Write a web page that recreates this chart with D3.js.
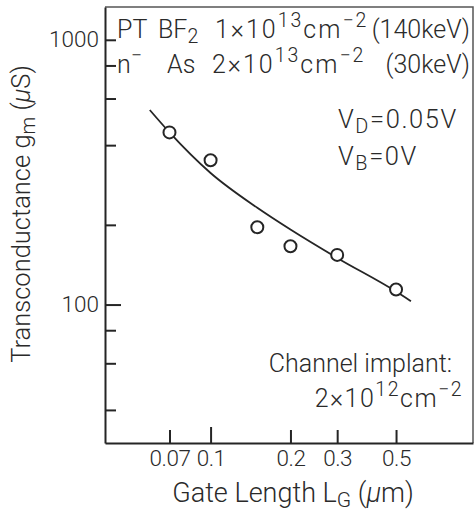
<!DOCTYPE html>
<html lang="en">
<head>
<meta charset="utf-8">
<title>Transconductance vs gate length</title>
<script src="https://cdn.jsdelivr.net/npm/d3@7"></script>
<style>
  body { margin: 0; background: #fff; }
  svg text { font-family: Roboto, "DejaVu Sans", sans-serif; font-weight: 300; fill: #2a2a2a; }
</style>
</head>
<body>
<div id="chart"></div>
<script>
// measured points (gate length in um, gm in uS)
var gateLength = [0.07, 0.1, 0.15, 0.2, 0.3, 0.5];
var gm = [447, 351, 196, 166, 154, 114];

// fitted curve
var fitLength = [0.059, 0.07, 0.1, 0.15, 0.2, 0.3, 0.5, 0.569];
var fitGm = [543, 447, 314, 232, 192, 150, 112, 103];

var xTicks = [0.07, 0.1, 0.2, 0.3, 0.5];
var xTickLabels = ["0.07", "0.1", "0.2", "0.3", "0.5"];
var yLabelled = [100, 1000];
var yMinor = [40, 60, 80, 200, 400, 600, 800];

var W = 475, H = 514;
var m = {top: 7, right: 2, bottom: 71, left: 105};

var svg = d3.select("#chart").append("svg")
  .attr("width", W)
  .attr("height", H);

var x = d3.scaleLog().domain([0.04, 0.975]).range([m.left, W - m.right]);
var y = d3.scaleLog().domain([30, 1330]).range([H - m.bottom, m.top]);

var ink = "#252525";

// frame top + right
svg.append("path")
  .attr("d", "M" + m.left + "," + m.top + "H" + (W - m.right) + "V" + (H - m.bottom))
  .style("fill", "none")
  .style("stroke", "#555")
  .style("stroke-width", 1.5);

// x axis
var gx = svg.append("g")
  .attr("transform", "translate(0," + (H - m.bottom) + ")")
  .call(d3.axisBottom(x)
    .tickValues(xTicks)
    .tickFormat(function(d, i) { return xTickLabels[i]; })
    .tickSizeInner(-13)
    .tickSizeOuter(0)
    .tickPadding(7));
gx.selectAll(".tick line").filter(function(d) { return d === 0.1; }).attr("y2", -16);

// y axis, labelled
var gy = svg.append("g")
  .attr("transform", "translate(" + m.left + ",0)")
  .call(d3.axisLeft(y)
    .tickValues(yLabelled)
    .tickFormat(d3.format("d"))
    .tickSizeInner(-16)
    .tickSizeOuter(0)
    .tickPadding(6));
gy.selectAll(".tick line").filter(function(d) { return d === 1000; }).attr("x2", 11);

// y axis, minor ticks
var gy2 = svg.append("g")
  .attr("transform", "translate(" + m.left + ",0)")
  .call(d3.axisLeft(y)
    .tickValues(yMinor)
    .tickFormat("")
    .tickSizeInner(-11)
    .tickSizeOuter(0));
gy2.select(".domain").remove();

svg.selectAll(".domain").style("stroke", ink).style("stroke-width", 2);
svg.selectAll(".tick line").style("stroke", ink).style("stroke-width", 2);
gx.attr("font-family", null);
gy.attr("font-family", null);
svg.selectAll(".tick text")
  .style("font-size", "22.5px")
  .style("fill", "#2a2a2a");
gx.selectAll(".tick text").style("letter-spacing", "-0.5px");

// fitted line
var line = d3.line()
  .x(function(d, i) { return x(fitLength[i]); })
  .y(function(d, i) { return y(fitGm[i]); })
  .curve(d3.curveMonotoneX);

svg.append("path")
  .datum(fitLength)
  .attr("d", line)
  .style("fill", "none")
  .style("stroke", ink)
  .style("stroke-width", 1.8);

// data points
svg.selectAll(".pt")
  .data(gateLength)
  .enter().append("circle")
  .attr("class", "pt")
  .attr("cx", function(d) { return x(d); })
  .attr("cy", function(d, i) { return y(gm[i]); })
  .attr("r", 6)
  .style("fill", "#fff")
  .style("stroke", ink)
  .style("stroke-width", 2);

// rich text helper: parts are [text, "sup"|"sub"|"", italic]
function rich(sel, parts) {
  var shift = 0;
  parts.forEach(function(p) {
    var t = sel.append("tspan").text(p[0]);
    var target = p[1] === "sup" ? -11 : (p[1] === "sub" ? 5 : 0);
    if (target !== shift) { t.attr("dy", target - shift); shift = target; }
    if (p[1]) t.attr("font-size", "0.78em");
    if (p[2]) t.style("font-style", "italic");
  });
  return sel;
}

function label(px, py, anchor, size, parts) {
  var t = svg.append("text")
    .attr("x", px)
    .attr("y", py)
    .attr("text-anchor", anchor)
    .style("font-size", size + "px");
  return rich(t, parts);
}

// axis titles
label(293, 502, "middle", 27, [["Gate Length L"], ["G", "sub"], [" ("], ["\u03bc", "", true], ["m)"]]);
var yt = label(0, 0, "middle", 25.5, [["Transconductance g"], ["m", "sub"], [" ("], ["\u03bc", "", true], ["S)"]]);
yt.attr("transform", "translate(30,214) rotate(-90)");

// implant conditions
label(117, 38, "start", 25, [["PT"]]);
label(158, 38, "start", 25, [["BF"], ["2", "sub"]]);
label(215, 38, "start", 25, [["1\u00d710"], ["13", "sup"], ["cm"], ["\u22122", "sup"]]).style("letter-spacing", "2px");
label(470, 38, "end", 25, [["(140keV)"]]);

label(117, 73, "start", 25, [["n"], ["\u2212", "sup"]]);
label(167, 73, "start", 25, [["As"]]);
label(212, 73, "start", 25, [["2\u00d710"], ["13", "sup"], ["cm"], ["\u22122", "sup"]]).style("letter-spacing", "2px");
label(470, 73, "end", 25, [["(30keV)"]]);

label(338, 128, "start", 25.5, [["V"], ["D", "sub"], ["=0.05V"]]).style("letter-spacing", "1.6px");
label(338, 165, "start", 25.5, [["V"], ["B", "sub"], ["=0V"]]).style("letter-spacing", "1.6px");

label(452, 372, "end", 25, [["Channel implant:"]]);
label(463, 407, "end", 25, [["2\u00d710"], ["12", "sup"], ["cm"], ["\u22122", "sup"]]).style("letter-spacing", "1.5px");
</script>
</body>
</html>
